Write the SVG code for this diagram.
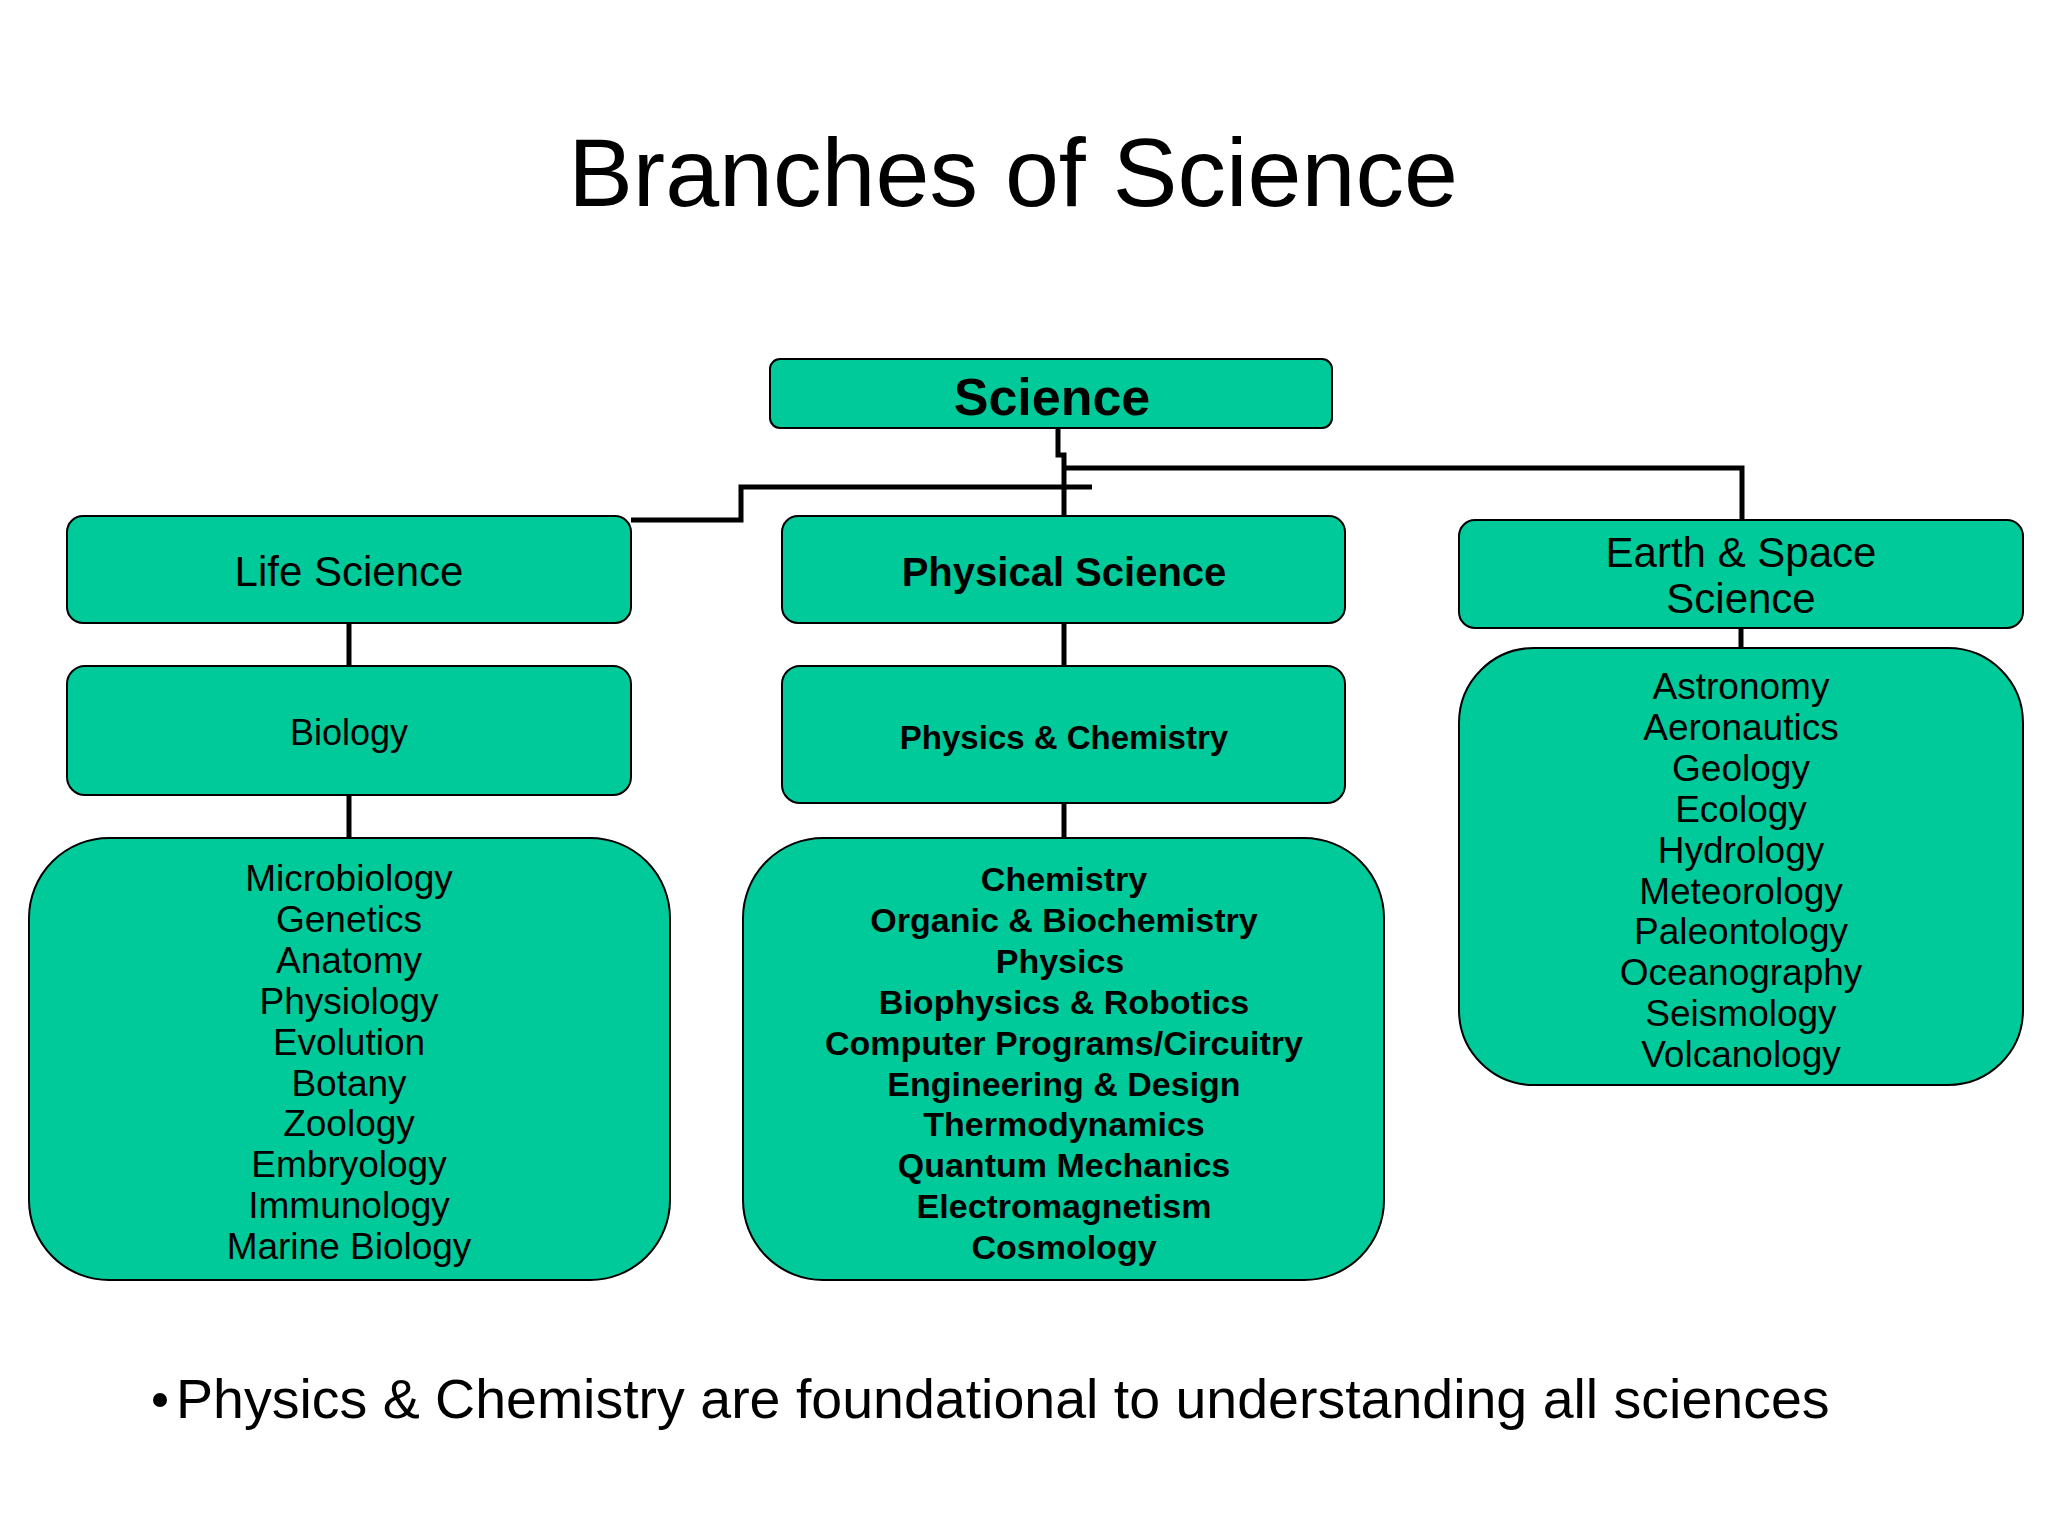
<svg xmlns="http://www.w3.org/2000/svg" width="2048" height="1536" viewBox="0 0 2048 1536">
<style>
.box{fill:#00C99A;stroke:#000;stroke-width:2}
.t{font-family:"Liberation Sans",Arial,sans-serif;fill:#000;text-anchor:middle}
.b{font-weight:bold}
.conn{fill:none;stroke:#000;stroke-width:5}
</style>
<rect width="2048" height="1536" fill="#fff"/>
<text class="t" x="1013" y="206" font-size="97">Branches of Science</text>
<g id="connectors">
<path class="conn" d="M1058,428 V455 H1064 V516"/>
<path class="conn" d="M1066,468 H1742 V520"/>
<path class="conn" d="M1092,487 H741 V520 H631"/>
<path class="conn" d="M349,623 V666"/>
<path class="conn" d="M349,795 V838"/>
<path class="conn" d="M1064,623 V666"/>
<path class="conn" d="M1064,803 V838"/>
<path class="conn" d="M1741,628 V648"/>
</g>
<g id="science">
<rect class="box" x="770" y="359" width="562" height="69" rx="10"/>
<text class="t b" x="1052" y="415" font-size="52">Science</text>
</g>
<g id="life-science">
<rect class="box" x="67" y="516" width="564" height="107" rx="16"/>
<text class="t" x="349" y="586" font-size="42">Life Science</text>
</g>
<g id="biology">
<rect class="box" x="67" y="666" width="564" height="129" rx="18"/>
<text class="t" x="349" y="745" font-size="36">Biology</text>
</g>
<g id="life-list">
<rect class="box" x="29" y="838" width="641" height="442" rx="80"/>
<text class="t" font-size="37"><tspan x="349" y="891">Microbiology</tspan><tspan x="349" y="932">Genetics</tspan><tspan x="349" y="973">Anatomy</tspan><tspan x="349" y="1014">Physiology</tspan><tspan x="349" y="1055">Evolution</tspan><tspan x="349" y="1096">Botany</tspan><tspan x="349" y="1136">Zoology</tspan><tspan x="349" y="1177">Embryology</tspan><tspan x="349" y="1218">Immunology</tspan><tspan x="349" y="1259">Marine Biology</tspan></text>
</g>
<g id="physical-science">
<rect class="box" x="782" y="516" width="563" height="107" rx="16"/>
<text class="t b" x="1064" y="586" font-size="40">Physical Science</text>
</g>
<g id="physics-chemistry">
<rect class="box" x="782" y="666" width="563" height="137" rx="18"/>
<text class="t b" x="1064" y="749" font-size="33">Physics &amp; Chemistry</text>
</g>
<g id="physical-list">
<rect class="box" x="743" y="838" width="641" height="442" rx="80"/>
<text class="t b" font-size="34"><tspan x="1064" y="891">Chemistry</tspan><tspan x="1064" y="932">Organic &amp; Biochemistry</tspan><tspan x="1060" y="973">Physics</tspan><tspan x="1064" y="1014">Biophysics &amp; Robotics</tspan><tspan x="1064" y="1055">Computer Programs/Circuitry</tspan><tspan x="1064" y="1096">Engineering &amp; Design</tspan><tspan x="1064" y="1136">Thermodynamics</tspan><tspan x="1064" y="1177">Quantum Mechanics</tspan><tspan x="1064" y="1218">Electromagnetism</tspan><tspan x="1064" y="1259">Cosmology</tspan></text>
</g>
<g id="earth-space">
<rect class="box" x="1459" y="520" width="564" height="108" rx="16"/>
<text class="t" font-size="42"><tspan x="1741" y="567">Earth &amp; Space</tspan><tspan x="1741" y="613">Science</tspan></text>
</g>
<g id="earth-list">
<rect class="box" x="1459" y="648" width="564" height="437" rx="75"/>
<text class="t" font-size="37"><tspan x="1741" y="699">Astronomy</tspan><tspan x="1741" y="740">Aeronautics</tspan><tspan x="1741" y="781">Geology</tspan><tspan x="1741" y="822">Ecology</tspan><tspan x="1741" y="863">Hydrology</tspan><tspan x="1741" y="904">Meteorology</tspan><tspan x="1741" y="944">Paleontology</tspan><tspan x="1741" y="985">Oceanography</tspan><tspan x="1741" y="1026">Seismology</tspan><tspan x="1741" y="1067">Volcanology</tspan></text>
</g>
<g id="note">
<circle cx="160" cy="1400" r="7" fill="#000"/>
<text x="176" y="1418" font-family="Liberation Sans,Arial,sans-serif" font-size="55.5" fill="#000">Physics &amp; Chemistry are foundational to understanding all sciences</text>
</g>
</svg>
